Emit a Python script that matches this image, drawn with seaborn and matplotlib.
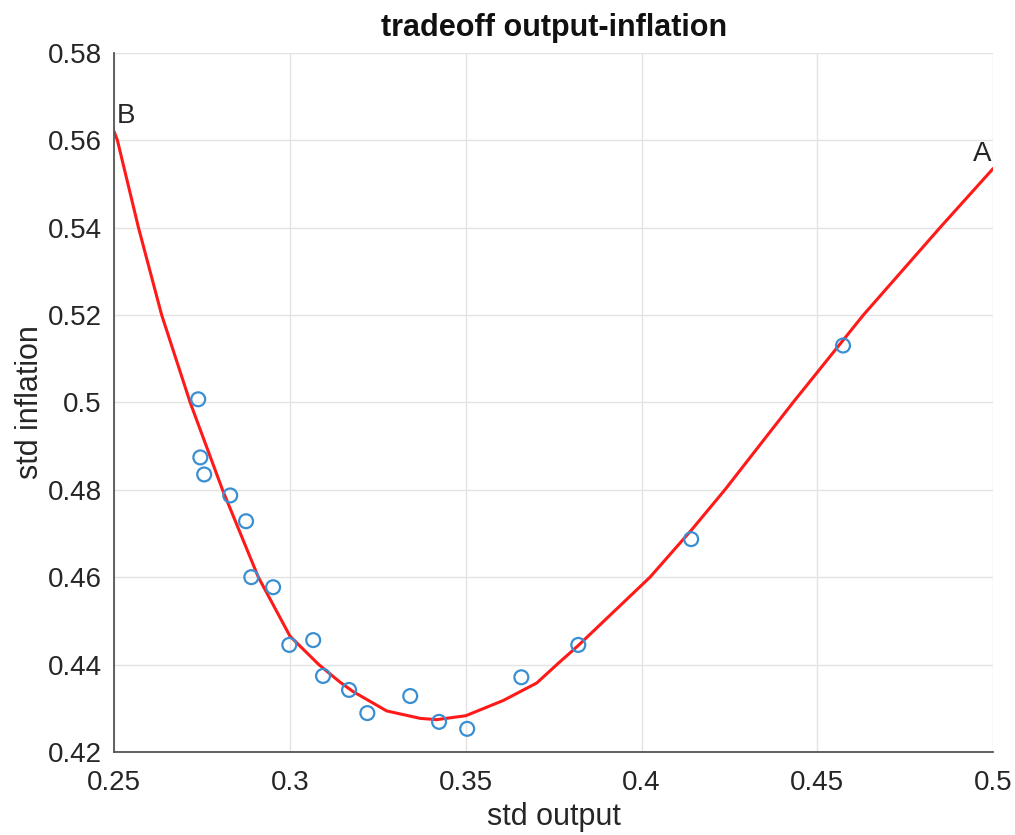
import matplotlib
matplotlib.use("Agg")
import matplotlib.pyplot as plt
import seaborn as sns
import pandas as pd

# observed (std output, std inflation) pairs
out_std = [0.2739, 0.2745, 0.2756, 0.2830, 0.2875, 0.2890, 0.2952, 0.2998,
           0.3066, 0.3094, 0.3168, 0.3220, 0.3342, 0.3424, 0.3504, 0.3658,
           0.3820, 0.4141, 0.4573]
infl_std = [0.5007, 0.4874, 0.4835, 0.4787, 0.4728, 0.4600, 0.4577, 0.4445,
            0.4456, 0.4374, 0.4342, 0.4289, 0.4328, 0.4269, 0.4253, 0.4371,
            0.4445, 0.4687, 0.5130]

# tradeoff frontier from B (left) to A (right)
curve_x = [0.2500, 0.2509, 0.2569, 0.2635, 0.2716, 0.2808, 0.2910, 0.3000,
           0.3082, 0.3142, 0.3180, 0.3275, 0.3370, 0.3417, 0.3500, 0.3607,
           0.3702, 0.3759, 0.3819, 0.4024, 0.4143, 0.4237, 0.4431, 0.4631,
           0.4849, 0.5000]
curve_y = [0.5619, 0.5600, 0.5400, 0.5200, 0.5000, 0.4800, 0.4600, 0.4465,
           0.4400, 0.4360, 0.4338, 0.4294, 0.4277, 0.4274, 0.4283, 0.4318,
           0.4358, 0.4400, 0.4443, 0.4600, 0.4709, 0.4800, 0.5000, 0.5200,
           0.5400, 0.5535]

xticks = [0.25, 0.3, 0.35, 0.4, 0.45, 0.5]
xtick_labels = ["0.25", "0.3", "0.35", "0.4", "0.45", "0.5"]
yticks = [0.42, 0.44, 0.46, 0.48, 0.5, 0.52, 0.54, 0.56, 0.58]
ytick_labels = ["0.42", "0.44", "0.46", "0.48", "0.5", "0.52", "0.54", "0.56", "0.58"]

sns.set_theme(style="whitegrid")
plt.rcParams["font.family"] = ["Liberation Sans", "DejaVu Sans"]

pts = pd.DataFrame({"x": out_std, "y": infl_std})
frontier = pd.DataFrame({"x": curve_x, "y": curve_y})

fig = plt.figure(figsize=(10.15, 8.35), dpi=100)
ax = fig.add_axes([0.1125, 0.0994, 0.8660, 0.8375])

sns.lineplot(data=frontier, x="x", y="y", sort=False, color="#ff1a1a",
             linewidth=2.2, solid_joinstyle="round", ax=ax)
sns.scatterplot(data=pts, x="x", y="y", marker="o", s=100,
                facecolor="none", edgecolor="#3a8fd2", linewidth=1.6,
                ax=ax, zorder=3)

ax.set_xlim(0.25, 0.5)
ax.set_ylim(0.42, 0.58)
ax.set_xticks(xticks)
ax.set_xticklabels(xtick_labels)
ax.set_yticks(yticks)
ax.set_yticklabels(ytick_labels)
ax.tick_params(axis="both", labelsize=20, direction="in", length=7,
               width=1, color="#555555", labelcolor="#262626")
ax.tick_params(axis="x", pad=13)
ax.tick_params(axis="y", pad=9)
ax.grid(True, color="#e3e3e3", linewidth=1)

for side in ["top", "right"]:
    ax.spines[side].set_visible(False)
for side in ["left", "bottom"]:
    ax.spines[side].set_visible(True)
    ax.spines[side].set_color("#555555")
    ax.spines[side].set_linewidth(1.3)

ax.set_xlabel("std output", fontsize=22, color="#262626", labelpad=4)
ax.set_ylabel("std inflation", fontsize=22, color="#262626", labelpad=2)
ax.set_title("tradeoff output-inflation", fontsize=22, fontweight="bold",
             color="#111111", pad=12)

ax.text(0.2508, 0.5655, "B", fontsize=20, color="#262626",
        ha="left", va="center")
ax.text(0.4995, 0.5568, "A", fontsize=20, color="#262626",
        ha="right", va="center")

fig.savefig("out.png", dpi=100)
